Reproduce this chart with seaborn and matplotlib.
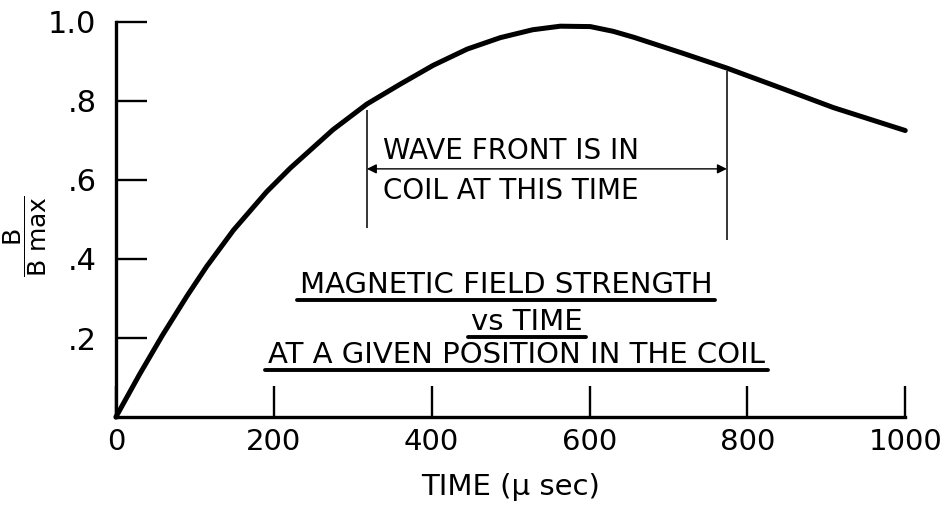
import matplotlib
matplotlib.use("Agg")
import matplotlib.pyplot as plt
import seaborn as sns
import pandas as pd
from matplotlib.lines import Line2D

# -----------------------------
# Data
# -----------------------------
time_us = [0, 30, 59, 90, 115, 149, 191, 221, 275, 318, 360, 402, 445,
           487, 528, 563, 601, 630, 656, 719, 774, 846, 909, 1000]
b_ratio = [0, 0.108, 0.207, 0.306, 0.381, 0.473, 0.57, 0.63, 0.727, 0.792,
           0.842, 0.89, 0.931, 0.96, 0.98, 0.989, 0.988, 0.976, 0.961,
           0.92, 0.883, 0.83, 0.783, 0.725]

x_ticks = [0, 200, 400, 600, 800, 1000]
y_ticks = [0.2, 0.4, 0.6, 0.8, 1.0]
y_tick_labels = [".2", ".4", ".6", ".8", "1.0"]

# wave front enters / leaves the coil
front_times = [318, 774]
front_low = [0.478, 0.448]
front_high = [0.776, 0.875]
arrow_level = 0.628

df = pd.DataFrame({"time": time_us, "b": b_ratio})

# -----------------------------
# Style
# -----------------------------
sns.set_theme(style="ticks", rc={
    "text.color": "black",
    "axes.labelcolor": "black",
    "xtick.color": "black",
    "ytick.color": "black",
    "axes.edgecolor": "black",
})
plt.rcParams["font.family"] = ["DejaVu Sans"]
plt.rcParams["mathtext.default"] = "regular"

fig = plt.figure(figsize=(9.42, 5.08), dpi=100)
ax = fig.add_axes([0.123, 0.179, 0.838, 0.778])

sns.lineplot(
    data=df,
    x="time",
    y="b",
    color="black",
    linewidth=3.6,
    sort=False,
    estimator=None,
    ax=ax,
)
for line in ax.get_lines():
    line.set_clip_on(False)
    line.set_solid_capstyle("round")
    line.set_solid_joinstyle("round")

ax.set_xlim(0, 1000)
ax.set_ylim(0, 1.0)
ax.set_xticks(x_ticks)
ax.set_xticklabels([str(t) for t in x_ticks])
ax.set_yticks(y_ticks)
ax.set_yticklabels(y_tick_labels)

ax.tick_params(axis="both", direction="in", length=22, width=1.7,
               colors="black")
ax.tick_params(axis="x", pad=8, labelsize=21)
ax.tick_params(axis="y", pad=14, labelsize=22)

sns.despine(ax=ax)
for side in ["left", "bottom"]:
    ax.spines[side].set_linewidth(2.4)
    ax.spines[side].set_capstyle("projecting")

ax.set_xlabel("TIME (μ sec)", fontsize=21, labelpad=12)
ax.set_ylabel("")
fig.text(0.027, 0.535, r"$\dfrac{B}{B\ max}$", rotation=90,
         fontsize=18, ha="center", va="center")

# -----------------------------
# Wave front markers
# -----------------------------
ax.vlines(front_times, front_low, front_high, color="black", linewidth=1.1)
ax.annotate(
    "",
    xy=(front_times[0], arrow_level),
    xytext=(front_times[1], arrow_level),
    arrowprops=dict(arrowstyle="<|-|>", color="black", lw=1.0,
                    shrinkA=0, shrinkB=0, mutation_scale=14),
)
ax.text(338, 0.673, "WAVE FRONT IS IN", fontsize=20, ha="left", va="center")
ax.text(338, 0.572, "COIL AT THIS TIME", fontsize=20, ha="left", va="center")

# -----------------------------
# Underlined title block
# -----------------------------
title_lines = [
    ("MAGNETIC FIELD STRENGTH", 494, 0.334),
    ("vs TIME", 521, 0.24),
    ("AT A GIVEN POSITION IN THE COIL", 508, 0.158),
]
texts = []
for label, tx, ty in title_lines:
    texts.append(ax.text(tx, ty, label, fontsize=21, ha="center", va="center"))

fig.canvas.draw()
renderer = fig.canvas.get_renderer()
inv = fig.transFigure.inverted()
for t in texts:
    bb = t.get_window_extent(renderer)
    x0, y0 = inv.transform((bb.x0 - 3, bb.y0 - 1))
    x1, _ = inv.transform((bb.x1 + 3, bb.y0 - 1))
    fig.add_artist(Line2D([x0, x1], [y0, y0], color="black", linewidth=2.8))

plt.savefig("out.png", dpi=100)
plt.close()
